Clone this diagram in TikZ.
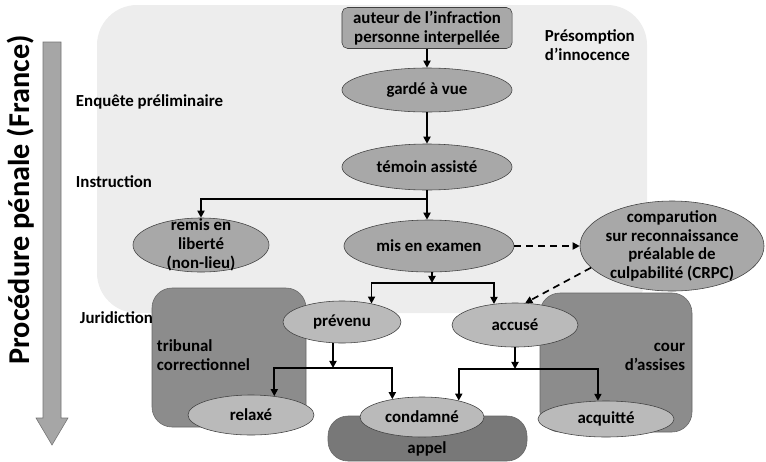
\documentclass[tikz,border=0pt]{standalone}
\usepackage{fontspec}
\setmainfont{Carlito}
\usetikzlibrary{shapes.geometric,arrows.meta}

\begin{document}
\begin{tikzpicture}[
  x=0.025cm, y=-0.025cm,
  every node/.style={font=\fontsize{12}{13.3}\selectfont\bfseries},
  etat/.style={ellipse, draw=black!75, fill=black!34, inner sep=0pt},
  issue/.style={ellipse, draw=black!75, fill=black!27, inner sep=0pt},
  cadre/.style={draw=black!60, fill=black!45, rounded corners=0.5cm},
  fleche/.style={line width=1.2pt, -{Triangle[length=5pt,width=5pt]}},
  pointille/.style={fleche, dash pattern=on 5pt off 3.5pt},
  etape/.style={anchor=west}
]
\useasboundingbox (0,0) rectangle (766,461);
\fill [black!7, rounded corners=1cm] (97,5) rectangle (647,313);

% fleche du temps
\filldraw [fill=black!35, draw=black!55] (43,42) -- (61,42) -- (61,418) -- (68,418)
  -- (52,445) -- (36,418) -- (43,418) -- cycle;
\node [rotate=90, font=\fontsize{21.5}{24}\selectfont\bfseries] (titre) at (21,200)
  {Procédure pénale (France)};

\node [etape] (enquete) at (71,102) {Enquête préliminaire};
\node [etape] (instruction) at (71,182) {Instruction};
\node [etape, align=left] (presomption) at (540,45) {Présomption\\d’innocence};

% juridictions
\path [cadre] (152,288) rectangle (306,427);
\path [cadre] (540,293) rectangle (692,432);
\path [cadre, fill=black!53] (328,416) rectangle (527,461);
\node [etape, align=left] (tribunal) at (152,355) {tribunal\\correctionnel};
\node [anchor=east, align=right] (cour) at (690,357) {cour\\d’assises};
\node (appel) at (427,449) {appel};
\node [etape] (juridiction) at (75,318) {Juridiction};

\node [draw=black!75, fill=black!34, rounded corners=4pt, minimum width=4.25cm,
  minimum height=1.025cm, inner sep=0pt, align=center] (auteur) at (427,28)
  {auteur de l’infraction\\personne interpellée};
\node [etat, minimum width=4.25cm, minimum height=1.1cm] (garde) at (427,90) {gardé à vue};
\node [etat, minimum width=4.25cm, minimum height=1.15cm] (temoin) at (427,167) {témoin assisté};
\node [etat, minimum width=4.25cm, minimum height=1.3cm] (mis) at (429,246) {mis en examen};
\node [etat, minimum width=3.4cm, minimum height=1.35cm] (remis) at (201,245) {};
\node [align=center] (remisTexte) at (remis) {remis en\\liberté\\(non-lieu)};
\node [etat, minimum width=4.6cm, minimum height=2.25cm] (crpc) at (672,246) {};
\node [align=center] (crpcTexte) at (crpc)
  {comparution\\sur reconnaissance\\préalable de\\culpabilité (CRPC)};

\node [issue, minimum width=2.95cm, minimum height=1.05cm] (prevenu) at (342,322) {prévenu};
\node [issue, minimum width=3.15cm, minimum height=1.1cm] (accuse) at (515,325) {accusé};
\node [issue, minimum width=3.15cm, minimum height=1cm] (relaxe) at (251,415) {relaxé};
\node [issue, minimum width=3.1cm, minimum height=1cm] (condamne) at (422,417) {condamné};
\node [issue, minimum width=3.4cm, minimum height=0.9cm] (acquitte) at (606,419) {acquitté};

\coordinate (jt) at (427,199);
\coordinate (jm) at (432,283);
\coordinate (jp) at (333,368);
\coordinate (ja) at (515,369);

\draw [fleche] (auteur) -- (garde);
\draw [fleche] (garde) -- (temoin);
\draw [fleche] (temoin) -- (temoin.south |- mis.north);
\draw [fleche] (jt) -| (remis);
\draw [fleche] (mis.south -| jm) -- (jm);
\draw [fleche] (jm) -| (prevenu.32);
\draw [fleche] (jm) -| (accuse.135);
\draw [pointille] (mis) -- (crpc);
\draw [pointille] (crpc.195) -- (accuse.65);
\draw [fleche] (prevenu.south -| jp) -- (jp);
\draw [fleche] (jp) -| (relaxe.39);
\draw [fleche] (jp) -| (condamne.149);
\draw [fleche] (accuse) -- (ja);
\draw [fleche] (ja) -| (condamne.24);
\draw [fleche] (ja) -| (acquitte.114);
\end{tikzpicture}
\end{document}
